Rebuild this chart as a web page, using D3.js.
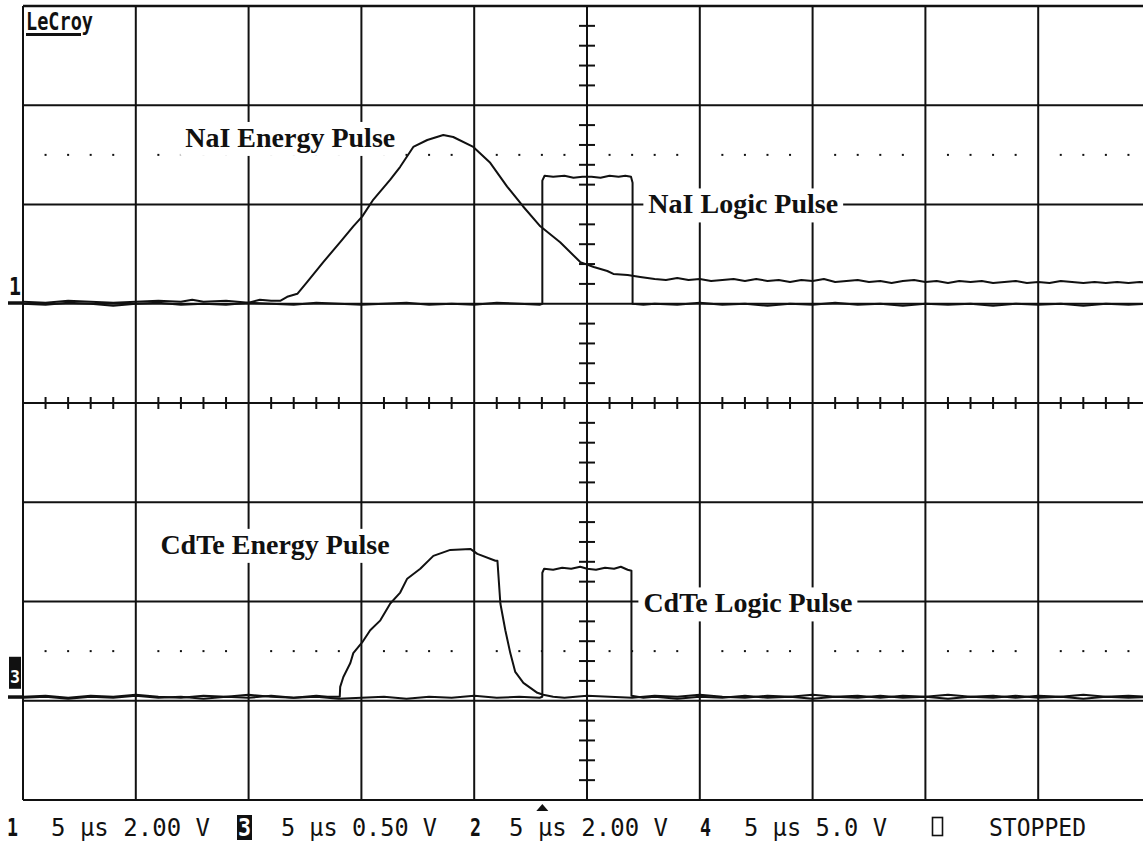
<!DOCTYPE html>
<html>
<head>
<meta charset="utf-8">
<script src="https://cdn.jsdelivr.net/npm/d3@7/dist/d3.min.js"></script>
<style>
  body { margin: 0; background: #fff; }
  svg { display: block; }
</style>
</head>
<body>
<div id="scope"></div>
<script>
// Trace data: [time in µs (5 µs/div), amplitude in screen divisions]
const naiEnergy = [
  [-25, 1.02], [-24, 1.01], [-23, 1.03], [-22, 1.02], [-21, 1.01], [-20, 1.02], [-19, 1.03],
  [-18, 1.02], [-17.5, 1.04], [-17, 1.02], [-16, 1.03], [-15, 1.01], [-14.5, 1.04], [-14, 1.03],
  [-13.6, 1.03], [-13.29, 1.07], [-12.84, 1.10], [-12.40, 1.22], [-11.69, 1.42], [-10.94, 1.62],
  [-10.36, 1.78], [-9.96, 1.88], [-9.47, 2.05], [-8.72, 2.25], [-8.28, 2.38], [-7.70, 2.58],
  [-7.08, 2.65], [-6.37, 2.70], [-5.93, 2.68], [-5.04, 2.58], [-4.29, 2.42], [-3.54, 2.18],
  [-2.83, 1.98], [-2.07, 1.78], [-1.19, 1.62], [-0.30, 1.42], [0.30, 1.37], [0.90, 1.33],
  [1.17, 1.30], [1.8, 1.29], [2.36, 1.27], [3, 1.25], [3.5, 1.24], [4, 1.26], [4.5, 1.24],
  [5, 1.25], [5.5, 1.23], [6, 1.24], [6.5, 1.25], [7, 1.23], [7.5, 1.25], [8, 1.23], [8.5, 1.24],
  [9, 1.22], [9.5, 1.24], [10, 1.23], [10.5, 1.25], [11, 1.22], [11.5, 1.23], [12, 1.24],
  [12.5, 1.22], [13, 1.23], [13.5, 1.21], [14, 1.23], [14.5, 1.24], [15, 1.22], [15.5, 1.23],
  [16, 1.21], [16.5, 1.23], [17, 1.22], [17.5, 1.23], [18, 1.21], [18.5, 1.22], [19, 1.23],
  [19.5, 1.21], [20, 1.22], [20.5, 1.21], [21, 1.23], [21.5, 1.22], [22, 1.21], [22.5, 1.22],
  [23, 1.21], [23.5, 1.22], [24, 1.21], [24.5, 1.22], [25, 1.21]
];

const naiLogic = [
  [-25, 1.00], [-24, 0.99], [-23, 1.01], [-22, 1.00], [-21, 0.98], [-20, 1.00], [-19, 1.01],
  [-18, 0.99], [-17, 1.00], [-16, 0.99], [-15, 1.01], [-14, 1.00], [-13, 0.99], [-12, 1.01],
  [-11, 1.00], [-10, 0.99], [-9, 1.00], [-8, 1.01], [-7, 0.99], [-6, 1.00], [-5, 0.99],
  [-4, 1.01], [-3, 1.00], [-2.1, 0.99], [-1.98, 1.00], [-1.98, 2.24], [-1.88, 2.29],
  [-1.5, 2.28], [-1, 2.29], [-0.6, 2.27], [-0.2, 2.28], [0.2, 2.28], [0.6, 2.27], [1, 2.29],
  [1.4, 2.28], [1.7, 2.29], [1.95, 2.28], [2.02, 2.22], [2.02, 1.00], [2.5, 0.99], [3, 1.00],
  [4, 0.99], [5, 1.01], [6, 0.99], [7, 1.00], [8, 0.98], [9, 1.00], [10, 0.99], [11, 1.01],
  [12, 0.99], [13, 1.00], [14, 0.98], [15, 1.00], [16, 0.99], [17, 1.00], [18, 0.98],
  [19, 1.00], [20, 0.99], [21, 1.00], [22, 0.98], [23, 1.00], [24, 0.99], [25, 1.00]
];

const cdteEnergy = [
  [-25, -2.96], [-24, -2.95], [-23, -2.97], [-22, -2.95], [-21, -2.96], [-20, -2.94],
  [-19, -2.96], [-18, -2.97], [-17, -2.95], [-16, -2.96], [-15, -2.94], [-14, -2.96],
  [-13, -2.97], [-12, -2.95], [-11.5, -2.96], [-10.96, -2.96], [-10.94, -2.86],
  [-10.80, -2.76], [-10.49, -2.62], [-10.36, -2.52], [-9.96, -2.41], [-9.61, -2.29],
  [-9.16, -2.19], [-8.72, -2.02], [-8.28, -1.91], [-7.97, -1.77], [-7.39, -1.67],
  [-6.81, -1.54], [-6.06, -1.48], [-5.17, -1.47], [-4.86, -1.52], [-4.06, -1.59],
  [-3.97, -1.59], [-3.84, -2.02], [-3.62, -2.29], [-3.40, -2.52], [-3.18, -2.71],
  [-2.82, -2.82], [-2.20, -2.92], [-1.94, -2.94], [-1.5, -2.96], [-1, -2.97], [0, -2.95],
  [1, -2.96], [2, -2.97], [3, -2.95], [4, -2.96], [5, -2.94], [6, -2.96], [7, -2.97],
  [8, -2.95], [9, -2.96], [10, -2.94], [11, -2.96], [12, -2.95], [13, -2.97], [14, -2.95],
  [15, -2.96], [16, -2.94], [17, -2.96], [18, -2.95], [19, -2.97], [20, -2.95], [21, -2.96],
  [22, -2.94], [23, -2.96], [24, -2.95], [25, -2.96]
];

const cdteLogic = [
  [-25, -2.97], [-24, -2.96], [-23, -2.98], [-22, -2.96], [-21, -2.97], [-20, -2.95],
  [-19, -2.97], [-18, -2.96], [-17, -2.98], [-16, -2.96], [-15, -2.97], [-14, -2.95],
  [-13, -2.97], [-12, -2.96], [-11, -2.98], [-10, -2.97], [-9, -2.96], [-8, -2.98],
  [-7, -2.96], [-6, -2.97], [-5, -2.95], [-4, -2.97], [-3, -2.96], [-2.1, -2.97],
  [-1.98, -2.96], [-1.98, -1.71], [-1.9, -1.67], [-1.5, -1.68], [-1.1, -1.66], [-0.7, -1.67],
  [-0.3, -1.65], [0, -1.67], [0.4, -1.68], [0.8, -1.66], [1.2, -1.67], [1.5, -1.65],
  [1.8, -1.68], [1.97, -1.69], [1.97, -2.95], [2.5, -2.97], [3, -2.96], [4, -2.98],
  [5, -2.96], [6, -2.97], [7, -2.95], [8, -2.97], [9, -2.96], [10, -2.98], [11, -2.96],
  [12, -2.97], [13, -2.95], [14, -2.97], [15, -2.96], [16, -2.98], [17, -2.96], [18, -2.97],
  [19, -2.95], [20, -2.97], [21, -2.96], [22, -2.98], [23, -2.96], [24, -2.97], [25, -2.96]
];

// Annotation texts and the status line
const labelNames = ['NaI Energy Pulse', 'NaI Logic Pulse', 'CdTe Energy Pulse', 'CdTe Logic Pulse'];
const channelIds = ['1', '3', '2', '4'];
const channelSettings = ['5 µs 2.00 V', '5 µs 0.50 V', '5 µs 2.00 V', '5 µs 5.0 V'];
const statusText = 'STOPPED';

const width = 1143;
const height = 842;

const svg = d3.select('#scope')
  .append('svg')
    .attr('width', width)
    .attr('height', height)
    .style('background', '#fff');

// Screen: 10 divisions of 5 µs, 8 vertical divisions
const x = d3.scaleLinear().domain([-25, 25]).range([23, 1151]);
const y = d3.scaleLinear().domain([-4, 4]).range([800, 6]);

const ink = '#111';

// Grid lines
const grid = svg.append('g').attr('stroke', ink).attr('stroke-width', 2);
grid.selectAll('.vline')
  .data(d3.range(-25, 26, 5))
  .join('line')
    .attr('x1', d => x(d)).attr('x2', d => x(d))
    .attr('y1', y(4)).attr('y2', y(-4));
grid.selectAll('.hline')
  .data(d3.range(-4, 5, 1))
  .join('line')
    .attr('x1', x(-25)).attr('x2', x(25))
    .attr('y1', d => y(d)).attr('y2', d => y(d))
    .attr('stroke-width', d => (d === 4 ? 2.6 : 2));

// Minor ticks on the centre axes (5 per division)
const minorT = d3.range(-25, 26).filter(t => t % 5 !== 0);
const minorV = d3.range(-20, 21).map(i => i * 0.2).filter(v => Math.abs(v - Math.round(v)) > 1e-6);
grid.selectAll('.tx')
  .data(minorT)
  .join('line')
    .attr('x1', d => x(d)).attr('x2', d => x(d))
    .attr('y1', y(0) - 6).attr('y2', y(0) + 6);
grid.selectAll('.tv')
  .data(minorV)
  .join('line')
    .attr('x1', x(0) - 8).attr('x2', x(0) + 8)
    .attr('y1', d => y(d)).attr('y2', d => y(d));

// Dotted cursor rows
[2.5, -2.5].forEach(level => {
  svg.append('g')
    .selectAll('rect')
    .data(minorT)
    .join('rect')
      .attr('x', d => x(d) - 1)
      .attr('y', y(level) - 1)
      .attr('width', 2)
      .attr('height', 2)
      .attr('fill', ink);
});

// Label anchors (left edge, baseline) in screen units
const labelPos = [[-17.81, 2.58], [2.72, 1.91], [-18.91, -1.52], [2.50, -2.11]];

const boxLayer = svg.append('g');
const traceLayer = svg.append('g');
const textLayer = svg.append('g');

const labelTexts = textLayer.selectAll('text')
  .data(labelNames)
  .join('text')
    .attr('x', (d, i) => x(labelPos[i][0]))
    .attr('y', (d, i) => y(labelPos[i][1]))
    .attr('font-family', '"Liberation Serif", "Times New Roman", serif')
    .attr('font-weight', 'bold')
    .attr('font-size', 28)
    .attr('fill', ink)
    .text(d => d);

// White boxes behind labels hide the grid
labelTexts.each(function() {
  const b = this.getBBox();
  boxLayer.append('rect')
    .attr('x', b.x - 5)
    .attr('y', b.y)
    .attr('width', b.width + 10)
    .attr('height', b.height + 3)
    .attr('fill', '#fff');
});

// Traces
const line = d3.line().x(d => x(d[0])).y(d => y(d[1]));
[naiEnergy, naiLogic, cdteEnergy, cdteLogic].forEach(trace => {
  traceLayer.append('path')
    .datum(trace)
    .attr('d', line)
    .attr('fill', 'none')
    .attr('stroke', ink)
    .attr('stroke-width', 2)
    .attr('stroke-linejoin', 'round');
});

// Ground level markers on the left edge
const markers = svg.append('g');
[[1.01, '1'], [-2.96, '3']].forEach(([level, id], i) => {
  markers.append('rect')
    .attr('x', 8).attr('y', y(level) - 1.5)
    .attr('width', 15).attr('height', 3.5)
    .attr('fill', ink);
  if (i === 0) {
    markers.append('text')
      .attr('x', 9).attr('y', y(level) - 8)
      .attr('font-family', 'DejaVu Sans Mono, monospace')
      .attr('font-weight', 'bold')
      .attr('font-size', 24)
      .attr('textLength', 12)
      .attr('lengthAdjust', 'spacingAndGlyphs')
      .attr('fill', ink)
      .text(id);
  } else {
    markers.append('rect')
      .attr('x', 9).attr('y', y(level) - 40)
      .attr('width', 12).attr('height', 32)
      .attr('fill', ink);
    markers.append('text')
      .attr('x', 10).attr('y', y(level) - 14)
      .attr('font-family', 'DejaVu Sans Mono, monospace')
      .attr('font-weight', 'bold')
      .attr('font-size', 18)
      .attr('textLength', 10)
      .attr('lengthAdjust', 'spacingAndGlyphs')
      .attr('fill', '#fff')
      .text(id);
  }
});

// LeCroy logo
svg.append('text')
  .attr('x', 26).attr('y', 30)
  .attr('font-family', 'DejaVu Sans Mono, monospace')
  .attr('font-weight', 'bold')
  .attr('font-size', 24)
  .attr('textLength', 67)
  .attr('lengthAdjust', 'spacingAndGlyphs')
  .attr('fill', ink)
  .text('LeCroy');
svg.append('rect')
  .attr('x', 26).attr('y', 33)
  .attr('width', 55).attr('height', 3)
  .attr('fill', ink);

// Trigger position marker
const trigT = -1.98;
svg.append('path')
  .attr('d', `M${x(trigT) - 6},811 L${x(trigT) + 6},811 L${x(trigT)},804 Z`)
  .attr('fill', ink);

// Status line
const status = svg.append('g')
  .attr('font-family', 'DejaVu Sans Mono, monospace')
  .attr('font-size', 25)
  .attr('fill', ink);
const baseY = 836;
const idX = [7, 238, 470, 700];
const setX = [[51, 159], [281, 156], [509, 159], [744, 143]];
channelIds.forEach((id, i) => {
  if (id === '3') {
    status.append('rect')
      .attr('x', idX[i] - 1).attr('y', 815)
      .attr('width', 15).attr('height', 25)
      .attr('fill', ink);
  }
  status.append('text')
    .attr('x', idX[i]).attr('y', baseY)
    .attr('font-weight', 'bold')
    .attr('textLength', id === '3' ? 13 : 11)
    .attr('lengthAdjust', 'spacingAndGlyphs')
    .attr('fill', id === '3' ? '#fff' : ink)
    .text(id);
  status.append('text')
    .attr('x', setX[i][0]).attr('y', baseY)
    .attr('textLength', setX[i][1])
    .attr('lengthAdjust', 'spacingAndGlyphs')
    .text(channelSettings[i]);
});
status.append('rect')
  .attr('x', 932.5).attr('y', 817.5)
  .attr('width', 10).attr('height', 18)
  .attr('fill', 'none')
  .attr('stroke', ink)
  .attr('stroke-width', 1.6);
status.append('text')
  .attr('x', 989).attr('y', baseY)
  .attr('textLength', 97)
  .attr('lengthAdjust', 'spacingAndGlyphs')
  .text(statusText);
</script>
</body>
</html>
